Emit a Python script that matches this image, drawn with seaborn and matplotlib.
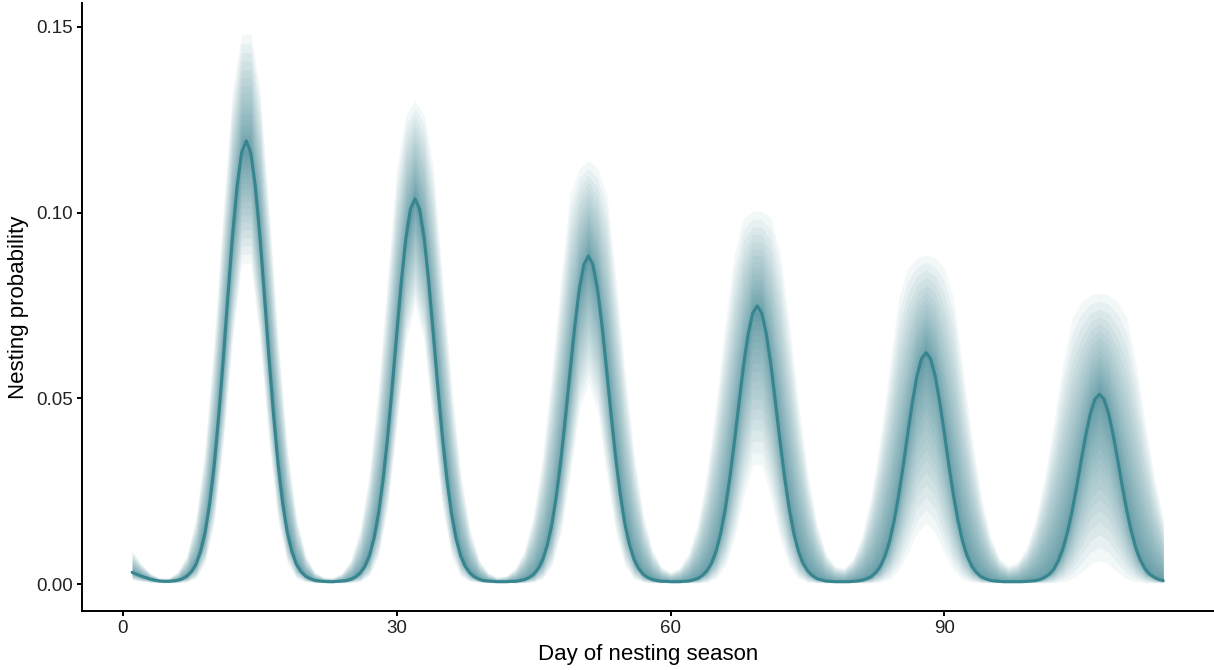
import numpy as np
import matplotlib
matplotlib.use("Agg")
import matplotlib.pyplot as plt
import seaborn as sns

# Median daily nesting probability on a half-day grid, days 1 to 114
grid_start, grid_end, grid_step = 1.0, 114.0, 0.5
median_prob = [
    0.0032, 0.0027, 0.0022, 0.0018, 0.0014, 0.0011, 0.0009, 0.0008,
    # first peak
    0.0008, 0.0009, 0.0011, 0.0015, 0.0022, 0.0034, 0.0054, 0.0088, 0.0140, 0.0217,
    0.0322, 0.0455, 0.0610, 0.0777, 0.0937, 0.1071, 0.1161, 0.1193, 0.1161, 0.1071,
    0.0937, 0.0777, 0.0610, 0.0455, 0.0322, 0.0217, 0.0140, 0.0088, 0.0054, 0.0034,
    0.0022, 0.0015, 0.0011, 0.0009, 0.0008, 0.0007,
    # second peak
    0.0007, 0.0008, 0.0009, 0.0010, 0.0014, 0.0020, 0.0031, 0.0048, 0.0077, 0.0123,
    0.0190, 0.0281, 0.0396, 0.0531, 0.0675, 0.0815, 0.0931, 0.1010, 0.1037, 0.1010,
    0.0931, 0.0815, 0.0675, 0.0531, 0.0396, 0.0281, 0.0190, 0.0123, 0.0077, 0.0048,
    0.0031, 0.0020, 0.0014, 0.0010, 0.0009, 0.0008, 0.0007,
    # third peak
    0.0007, 0.0007, 0.0008, 0.0008, 0.0010, 0.0013, 0.0018, 0.0027, 0.0042, 0.0067,
    0.0106, 0.0162, 0.0240, 0.0338, 0.0453, 0.0575, 0.0694, 0.0793, 0.0860, 0.0883,
    0.0860, 0.0793, 0.0694, 0.0575, 0.0453, 0.0338, 0.0240, 0.0162, 0.0106, 0.0067,
    0.0042, 0.0027, 0.0018, 0.0013, 0.0010, 0.0008, 0.0008, 0.0007,
    # fourth peak
    0.0007, 0.0007, 0.0008, 0.0009, 0.0012, 0.0016, 0.0024, 0.0037, 0.0057, 0.0090,
    0.0138, 0.0204, 0.0287, 0.0384, 0.0488, 0.0589, 0.0673, 0.0729, 0.0749, 0.0729,
    0.0673, 0.0589, 0.0488, 0.0384, 0.0287, 0.0204, 0.0138, 0.0090, 0.0057, 0.0037,
    0.0024, 0.0016, 0.0012, 0.0009, 0.0008, 0.0007, 0.0007,
    # fifth peak
    0.0007, 0.0007, 0.0008, 0.0009, 0.0011, 0.0015, 0.0021, 0.0032, 0.0049, 0.0076,
    0.0116, 0.0171, 0.0240, 0.0320, 0.0407, 0.0490, 0.0560, 0.0607, 0.0623, 0.0607,
    0.0560, 0.0490, 0.0407, 0.0320, 0.0240, 0.0171, 0.0116, 0.0076, 0.0049, 0.0032,
    0.0021, 0.0015, 0.0011, 0.0009, 0.0008, 0.0007, 0.0007, 0.0007,
    # sixth peak
    0.0007, 0.0007, 0.0008, 0.0009, 0.0010, 0.0013, 0.0019, 0.0027, 0.0041, 0.0064,
    0.0096, 0.0141, 0.0197, 0.0263, 0.0334, 0.0402, 0.0459, 0.0498, 0.0511, 0.0498,
    0.0459, 0.0402, 0.0334, 0.0263, 0.0197, 0.0141, 0.0096, 0.0064, 0.0041, 0.0027,
    0.0019, 0.0013, 0.0010,
]

# Outer credible envelope, one value per day (days 1 to 114)
upper_prob = [
    0.0090, 0.0055, 0.0030, 0.0017, 0.0017, 0.0033, 0.0078, 0.0180, 0.0371, 0.0662,
    0.1015, 0.1329, 0.1480, 0.1480, 0.1329, 0.1015, 0.0662, 0.0371, 0.0180, 0.0078,
    0.0033, 0.0019, 0.0018, 0.0030, 0.0067, 0.0149, 0.0301, 0.0535, 0.0829, 0.1120,
    0.1262, 0.1300, 0.1262, 0.1120, 0.0829, 0.0535, 0.0301, 0.0149, 0.0067, 0.0031,
    0.0019, 0.0023, 0.0043, 0.0092, 0.0188, 0.0350, 0.0575, 0.0828, 0.1050, 0.1118,
    0.1140, 0.1118, 0.1050, 0.0828, 0.0575, 0.0350, 0.0188, 0.0092, 0.0047, 0.0032,
    0.0044, 0.0084, 0.0166, 0.0302, 0.0490, 0.0705, 0.0890, 0.0985, 0.1004, 0.1004,
    0.0985, 0.0890, 0.0705, 0.0490, 0.0302, 0.0166, 0.0084, 0.0049, 0.0043, 0.0069,
    0.0131, 0.0240, 0.0398, 0.0586, 0.0770, 0.0850, 0.0878, 0.0886, 0.0878, 0.0850,
    0.0770, 0.0586, 0.0398, 0.0241, 0.0132, 0.0071, 0.0049, 0.0059, 0.0098, 0.0174,
    0.0290, 0.0438, 0.0594, 0.0715, 0.0760, 0.0778, 0.0783, 0.0778, 0.0760, 0.0715,
    0.0594, 0.0438, 0.0290, 0.0174,
]
lower_prob = [
    0.0012, 0.0008, 0.0005, 0.0004, 0.0004, 0.0004, 0.0007, 0.0017, 0.0058, 0.0167,
    0.0379, 0.0656, 0.0864, 0.0864, 0.0656, 0.0379, 0.0167, 0.0058, 0.0017, 0.0007,
    0.0004, 0.0004, 0.0004, 0.0004, 0.0005, 0.0008, 0.0023, 0.0076, 0.0205, 0.0422,
    0.0652, 0.0754, 0.0652, 0.0422, 0.0205, 0.0076, 0.0023, 0.0008, 0.0005, 0.0004,
    0.0004, 0.0004, 0.0004, 0.0004, 0.0006, 0.0015, 0.0050, 0.0139, 0.0295, 0.0467,
    0.0544, 0.0467, 0.0295, 0.0139, 0.0050, 0.0015, 0.0006, 0.0004, 0.0004, 0.0004,
    0.0004, 0.0004, 0.0004, 0.0006, 0.0016, 0.0049, 0.0123, 0.0233, 0.0321, 0.0321,
    0.0233, 0.0123, 0.0049, 0.0016, 0.0006, 0.0004, 0.0004, 0.0004, 0.0004, 0.0004,
    0.0004, 0.0004, 0.0006, 0.0014, 0.0038, 0.0084, 0.0139, 0.0164, 0.0139, 0.0084,
    0.0038, 0.0014, 0.0006, 0.0004, 0.0004, 0.0004, 0.0004, 0.0004, 0.0004, 0.0004,
    0.0004, 0.0004, 0.0007, 0.0015, 0.0033, 0.0054, 0.0064, 0.0054, 0.0033, 0.0015,
    0.0007, 0.0004, 0.0004, 0.0004,
]

x_ticks = [0, 30, 60, 90]
y_ticks = [0.00, 0.05, 0.10, 0.15]
y_tick_labels = ["0.00", "0.05", "0.10", "0.15"]
x_label = "Day of nesting season"
y_label = "Nesting probability"

days = np.arange(grid_start, grid_end + grid_step / 2, grid_step)
median = np.asarray(median_prob)
assert len(median) == len(days)
band_days = np.arange(1, 115)
median_daily = median[::2]
upper = np.asarray(upper_prob)
lower = np.asarray(lower_prob)
assert len(upper) == len(band_days) == len(lower) == len(median_daily)

sns.set_theme(style="ticks")
plt.rcParams["font.family"] = ["Liberation Sans", "DejaVu Sans"]

line_color = "#37858f"
fan_color = "#2b7a88"

fig = plt.figure(figsize=(12.14, 6.70), dpi=100)
ax = fig.add_axes([82 / 1214, 1 - 611 / 670, (1214 - 82) / 1214, (611 - 3) / 670])

# Fan of nested credible ribbons, densest next to the median
n_levels = 20
for k in range(n_levels, 0, -1):
    frac = (k / n_levels) ** 1.6
    lo = median_daily - frac * (median_daily - lower)
    hi = median_daily + frac * (upper - median_daily)
    ax.fill_between(band_days, lo, hi, color=fan_color, alpha=0.06,
                    linewidth=0, zorder=1)

sns.lineplot(x=days, y=median, ax=ax, color=line_color, linewidth=2.2,
             zorder=3)

ax.set_xlim(-4.49, 119.55)
ax.set_ylim(-0.00718, 0.15637)
ax.set_xticks(x_ticks)
ax.set_xticklabels([str(t) for t in x_ticks])
ax.set_yticks(y_ticks)
ax.set_yticklabels(y_tick_labels)
ax.set_xlabel(x_label, fontsize=16, color="black", labelpad=5)
ax.set_ylabel(y_label, fontsize=16, color="black", labelpad=5)

sns.despine(ax=ax)
for side in ("left", "bottom"):
    ax.spines[side].set_linewidth(1.4)
    ax.spines[side].set_color("black")
ax.tick_params(axis="both", direction="out", length=3.6, width=1.4,
               color="black", labelsize=13.5, labelcolor="#222222", pad=3)
ax.grid(False)
ax.set_facecolor("white")
fig.patch.set_facecolor("white")

fig.savefig("out.png", dpi=100, facecolor="white")
